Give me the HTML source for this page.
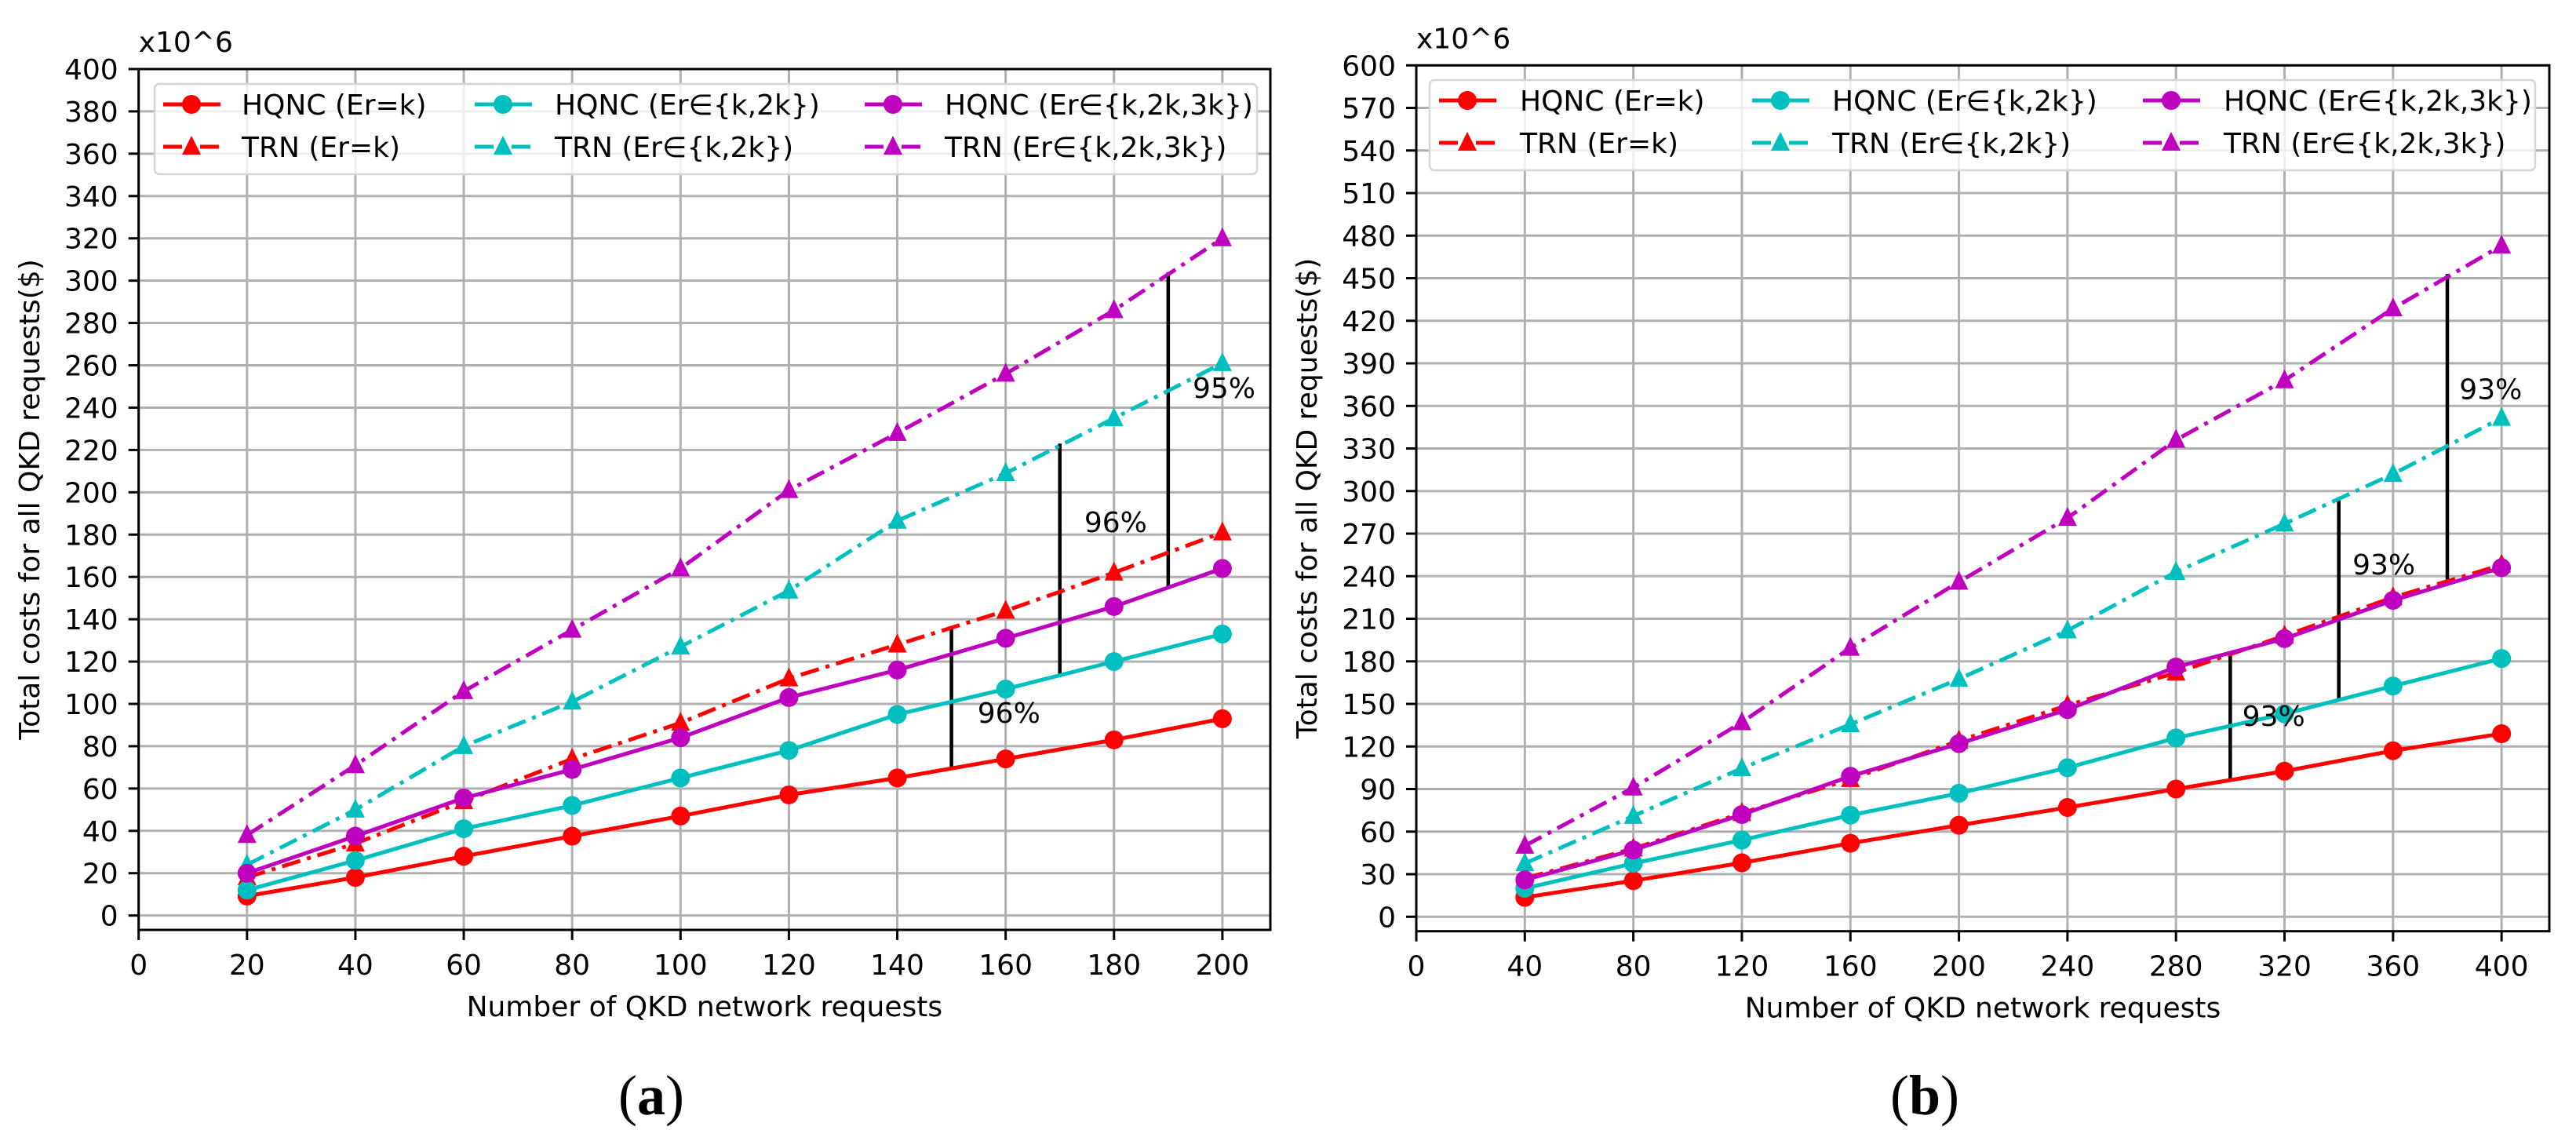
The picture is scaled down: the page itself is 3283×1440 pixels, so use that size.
<!DOCTYPE html>
<html><head><meta charset="utf-8"><style>
html,body{margin:0;padding:0;background:#fff;}
svg{display:block;font-family:"DejaVu Sans","Liberation Sans",sans-serif;}
</style></head><body>
<svg id="fig" width="3283" height="1440" viewBox="0 0 3283 1440" xmlns="http://www.w3.org/2000/svg"></svg>
<script>
// ---- Panel (a) data ----
const xA = [20,40,60,80,100,120,140,160,180,200];
const hqncK_A = [9.2,18,28,37.5,47,57,65,74,83,93];
const trnK_A = [18,34,54,74,91,112,128,144,162,181];
const hqnc2k_A = [12,26,41,52,65,78,95,107,120,133];
const trn2k_A = [24,50,80,101,127,153.5,186.5,209,235,261];
const hqnc3k_A = [20,37.5,55.5,69,84,103,116,131,146,164];
const trn3k_A = [38,71,106,135,164,201,228,256,286,320];
const xTicksA = [0,20,40,60,80,100,120,140,160,180,200];
const yTicksA = [0,20,40,60,80,100,120,140,160,180,200,220,240,260,280,300,320,340,360,380,400];
const gapX_A = [150,170,190];
const gapLo_A = [69,113,155];
const gapHi_A = [136,223,304];
const pctLabel_A = ["96%","96%","95%"];
const pctX_A = [160.6,180.3,200.3];
const pctY_A = [96,186,249.5];
// ---- Panel (b) data ----
const xB = [40,80,120,160,200,240,280,320,360,400];
const hqncK_B = [13.7,25.4,38,51.8,64.5,77,90,102.6,117,129];
const trnK_B = [27,48,73,97,124,149,172,198,225,248];
const hqnc2k_B = [20,37.6,54,71.6,87,105,126,143,162.6,182];
const trn2k_B = [37.6,71,104.6,135.6,167.6,201.7,243,277,312,351.5];
const hqnc3k_B = [26,47,72,99,122,146,176,196,223,246];
const trn3k_B = [50,91,137,189.5,236,281,336,378,428.7,473];
const xTicksB = [0,40,80,120,160,200,240,280,320,360,400];
const yTicksB = [0,30,60,90,120,150,180,210,240,270,300,330,360,390,420,450,480,510,540,570,600];
const gapX_B = [300,340,380];
const gapLo_B = [97,153.4,235.7];
const gapHi_B = [186.4,295.7,453];
const pctLabel_B = ["93%","93%","93%"];
const pctX_B = [316,356.6,396];
const pctY_B = [141.7,248.4,372];

const NS="http://www.w3.org/2000/svg";
const svg=document.getElementById('fig');
function mk(tag,attrs,parent){const e=document.createElementNS(NS,tag);for(const k in attrs)e.setAttribute(k,attrs[k]);(parent||svg).appendChild(e);return e;}
const DASH='24 9 5 9';
const FS=36;

function panel(P){
  const g=mk('g',{});
  
  
  const sx=v=>P.L+(v-P.x0)/(P.x1-P.x0)*(P.R-P.L);
  const sy=v=>P.B-(v-P.y0)/(P.y1-P.y0)*(P.B-P.T);
  P.xt.forEach(t=>{const l=mk('line',{x1:sx(t),x2:sx(t),y1:P.T,y2:P.B,stroke:'#b0b0b0','stroke-width':3},g);
    });
  P.yt.forEach(t=>{const l=mk('line',{x1:P.L,x2:P.R,y1:sy(t),y2:sy(t),stroke:'#b0b0b0','stroke-width':3},g);
    });
  const series=[
    {d:P.s[1],c:'#ff0000',dash:true,m:'tri',n:'trn-er-k'},
    {d:P.s[3],c:'#00bfbf',dash:true,m:'tri',n:'trn-er-k-2k'},
    {d:P.s[5],c:'#bf00bf',dash:true,m:'tri',n:'trn-er-k-2k-3k'},
    {d:P.s[0],c:'#ff0000',dash:false,m:'dot',n:'hqnc-er-k'},
    {d:P.s[2],c:'#00bfbf',dash:false,m:'dot',n:'hqnc-er-k-2k'},
    {d:P.s[4],c:'#bf00bf',dash:false,m:'dot',n:'hqnc-er-k-2k-3k'}];
  P.gx.forEach((x,i)=>{const l=mk('line',{x1:sx(x),x2:sx(x),y1:sy(P.glo[i]),y2:sy(P.ghi[i]),stroke:'#000','stroke-width':4.5},g);
    });
  series.forEach(S=>{
    const pts=P.xs.map((x,i)=>sx(x)+','+sy(S.d[i])).join(' ');
    const pl=mk('polyline',{points:pts,fill:'none',stroke:S.c,'stroke-width':5,'stroke-dasharray':S.dash?DASH:'none'},g);
    
    P.xs.forEach((x,i)=>{
      const cx=sx(x),cy=sy(S.d[i]);let m;
      if(S.m==='dot') m=mk('circle',{cx:cx,cy:cy,r:12,fill:S.c},g);
      else m=mk('polygon',{points:`${cx},${cy-14} ${cx-12},${cy+10} ${cx+12},${cy+10}`,fill:S.c},g);
      
    });
  });
  P.pl.forEach((t,i)=>{const e=mk('text',{x:sx(P.px[i]),y:sy(P.py[i])+13,'font-size':FS,'text-anchor':'middle',fill:'#000'},g);e.textContent=t;
    });
  const r=mk('rect',{x:P.L,y:P.T,width:P.R-P.L,height:P.B-P.T,fill:'none',stroke:'#000','stroke-width':3},g);
  
  P.xt.forEach(t=>{const l=mk('line',{x1:sx(t),x2:sx(t),y1:P.B,y2:P.B+13,stroke:'#000','stroke-width':3},g);
    
    const e=mk('text',{x:sx(t),y:P.B+57,'font-size':FS,'text-anchor':'middle',fill:'#000'},g);e.textContent=t;
    });
  P.yt.forEach(t=>{const l=mk('line',{x1:P.L-13,x2:P.L,y1:sy(t),y2:sy(t),stroke:'#000','stroke-width':3},g);
    
    const e=mk('text',{x:P.L-26,y:sy(t)+13,'font-size':FS,'text-anchor':'end',fill:'#000'},g);e.textContent=t;
    });
  let e=mk('text',{x:P.L,y:P.T-22,'font-size':FS,fill:'#000'},g);e.textContent='x10^6';
  
  e=mk('text',{x:(P.L+P.R)/2,y:P.B+110,'font-size':FS,'text-anchor':'middle',fill:'#000'},g);e.textContent='Number of QKD network requests';
  
  const yc=(P.T+P.B)/2;
  e=mk('text',{x:P.yl,y:yc,'font-size':FS,'text-anchor':'middle',fill:'#000',transform:`rotate(-90 ${P.yl} ${yc})`},g);e.textContent='Total costs for all QKD requests($)';
  
  e=mk('text',{x:P.cap,y:1420,'font-size':72,'text-anchor':'middle',fill:'#000','font-family':'Liberation Serif, serif'},g);
  e.innerHTML='(<tspan font-weight="bold">'+P.letter+'</tspan>)';
  
  const lg=mk('g',{},g);
  mk('rect',{x:P.lgL,y:P.lgT,width:P.lgR-P.lgL,height:115,rx:6,fill:'rgba(255,255,255,0.8)',stroke:'#d6d6d6','stroke-width':2.5},lg);
  const ent=[[series[3],series[0]],[series[4],series[1]],[series[5],series[2]]];
  const labs=[['HQNC (Er=k)','TRN (Er=k)'],['HQNC (Er\u2208{k,2k})','TRN (Er\u2208{k,2k})'],['HQNC (Er\u2208{k,2k,3k})','TRN (Er\u2208{k,2k,3k})']];
  ent.forEach((col,ci)=>col.forEach((S,ri)=>{
    const le=mk('g',{},lg);
    const y=P.lgT+26+ri*54,hx=P.colH[ci];
    mk('line',{x1:hx,x2:hx+73,y1:y,y2:y,stroke:S.c,'stroke-width':5,'stroke-dasharray':S.dash?DASH:'none'},le);
    const cx=hx+36;
    if(S.m==='dot') mk('circle',{cx:cx,cy:y,r:12,fill:S.c},le);
    else mk('polygon',{points:`${cx},${y-14} ${cx-12},${y+10} ${cx+12},${y+10}`,fill:S.c},le);
    const t=mk('text',{x:P.colT[ci],y:y+13,'font-size':FS,fill:'#000'},le);t.textContent=labs[ci][ri];
  }));
}
panel({name:'panel-a',L:176.7,R:1619,T:88,B:1185,x0:0,x1:208.85,y0:-6.8,y1:400,
  xs:xA,s:[hqncK_A,trnK_A,hqnc2k_A,trn2k_A,hqnc3k_A,trn3k_A],xt:xTicksA,yt:yTicksA,
  gx:gapX_A,glo:gapLo_A,ghi:gapHi_A,pl:pctLabel_A,px:pctX_A,py:pctY_A,
  yl:50,cap:830,letter:'a',lgL:197,lgR:1602,lgT:107,colH:[208,605,1102],colT:[308,707,1204]});
panel({name:'panel-b',L:1805,R:3249,T:83.3,B:1186.7,x0:0,x1:417.6,y0:-10.2,y1:600,
  xs:xB,s:[hqncK_B,trnK_B,hqnc2k_B,trn2k_B,hqnc3k_B,trn3k_B],xt:xTicksB,yt:yTicksB,
  gx:gapX_B,glo:gapLo_B,ghi:gapHi_B,pl:pctLabel_B,px:pctX_B,py:pctY_B,
  yl:1678,cap:2453,letter:'b',lgL:1822,lgR:3231,lgT:102,colH:[1834,2233,2731],colT:[1937,2335,2834]});
</script>
</body></html>
